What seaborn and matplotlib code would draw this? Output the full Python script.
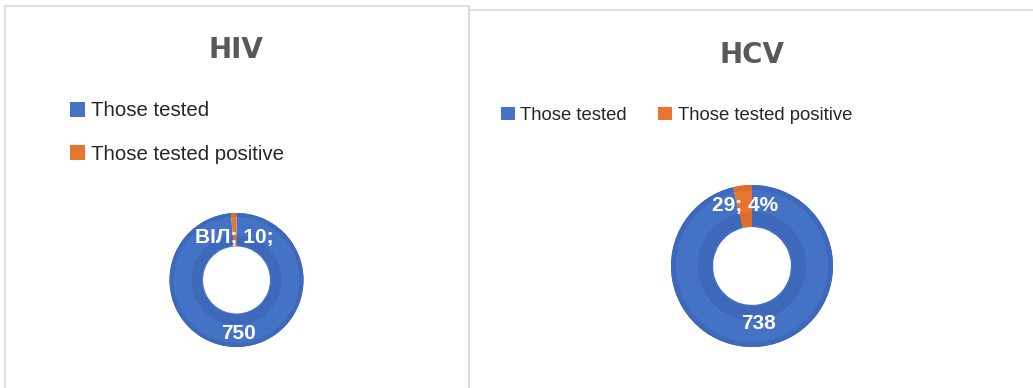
import matplotlib
matplotlib.use("Agg")
import matplotlib.pyplot as plt
from matplotlib.patches import Rectangle, Patch
import numpy as np
import seaborn as sns

# ---- data ----
categories = ["Those tested", "Those tested positive"]
titles = ["HIV", "HCV"]
hiv_values = [750, 10]
hcv_values = [738, 29]
hiv_labels = ["750", "ВІЛ; 10;"]
hcv_labels = ["738", "29; 4%"]

sns.set_theme(style="white")
plt.rcParams['font.family'] = ['DejaVu Sans']

W, H = 1033, 388
fig = plt.figure(figsize=(W / 100, H / 100), dpi=100)
fig.patch.set_facecolor("white")

light = ["#4472C4", "#E5752F"]
dark = ["#3E69BA", "#DA6E2A"]

def fx(px):
    return px / W

def fy(py):
    return 1 - py / H

# panel borders
border = "#D9D9D9"
fig.add_artist(Rectangle((fx(4.5), fy(392)), fx(464), (392 - 5.5) / H,
                         transform=fig.transFigure, fill=False, edgecolor=border, lw=1.2))
fig.add_artist(Rectangle((fx(469), fy(392)), fx(570), (392 - 10) / H,
                         transform=fig.transFigure, fill=False, edgecolor=border, lw=1.2))

def donut(cx, cy, R, values, labels, label_r, hole):
    ax = fig.add_axes([fx(cx - R), fy(cy + R), fx(2 * R), 2 * R / H])
    ax.axis("off")
    bands = [(1.0, 1.0 - hole, light), (1.0, 0.06, dark), (0.67, 0.67 - hole - 0.02, dark)]
    wedges = None
    for r, w, cols in bands:
        ws, _ = ax.pie(values, radius=r, startangle=90, counterclock=False,
                       colors=cols, wedgeprops=dict(width=w, linewidth=0))
        if wedges is None:
            wedges = ws
    ax.set_xlim(-1, 1)
    ax.set_ylim(-1, 1)
    ax.set_aspect("equal")
    for wdg, lab, lr in zip(wedges, labels, label_r):
        ang = np.deg2rad((wdg.theta1 + wdg.theta2) / 2)
        ax.text(lr * np.cos(ang), lr * np.sin(ang), lab, ha="center", va="center",
                color="white", fontsize=15, fontweight="bold", family="Liberation Sans")
    return ax

donut(236.5, 280, 67, hiv_values, hiv_labels, [0.8, 0.64], 0.5)
donut(752, 266, 81, hcv_values, hcv_labels, [0.72, 0.75], 0.48)

# titles
fig.text(fx(236), fy(50), titles[0], ha="center", va="center", fontsize=20,
         fontweight="bold", color="#595959")
fig.text(fx(752), fy(55), titles[1], ha="center", va="center", fontsize=20,
         fontweight="bold", color="#595959")

handles = [Patch(facecolor=light[0], edgecolor="none"), Patch(facecolor=light[1], edgecolor="none")]
leg_kw = dict(frameon=False, borderpad=0, borderaxespad=0, handlelength=0.75,
              handleheight=0.75, labelcolor="#262626")
fig.legend(handles, categories, loc="center left", bbox_to_anchor=(fx(70), fy(132.5)),
           ncol=1, labelspacing=1.2, handletextpad=0.3,
           prop={"family": "Liberation Sans", "size": 14.7}, **leg_kw)
fig.legend(handles, categories, loc="center left", bbox_to_anchor=(fx(501), fy(115.5)),
           ncol=2, columnspacing=1.7, handletextpad=0.3,
           prop={"family": "Liberation Sans", "size": 13.3}, **leg_kw)

fig.savefig("out.png", dpi=100, facecolor="white")
